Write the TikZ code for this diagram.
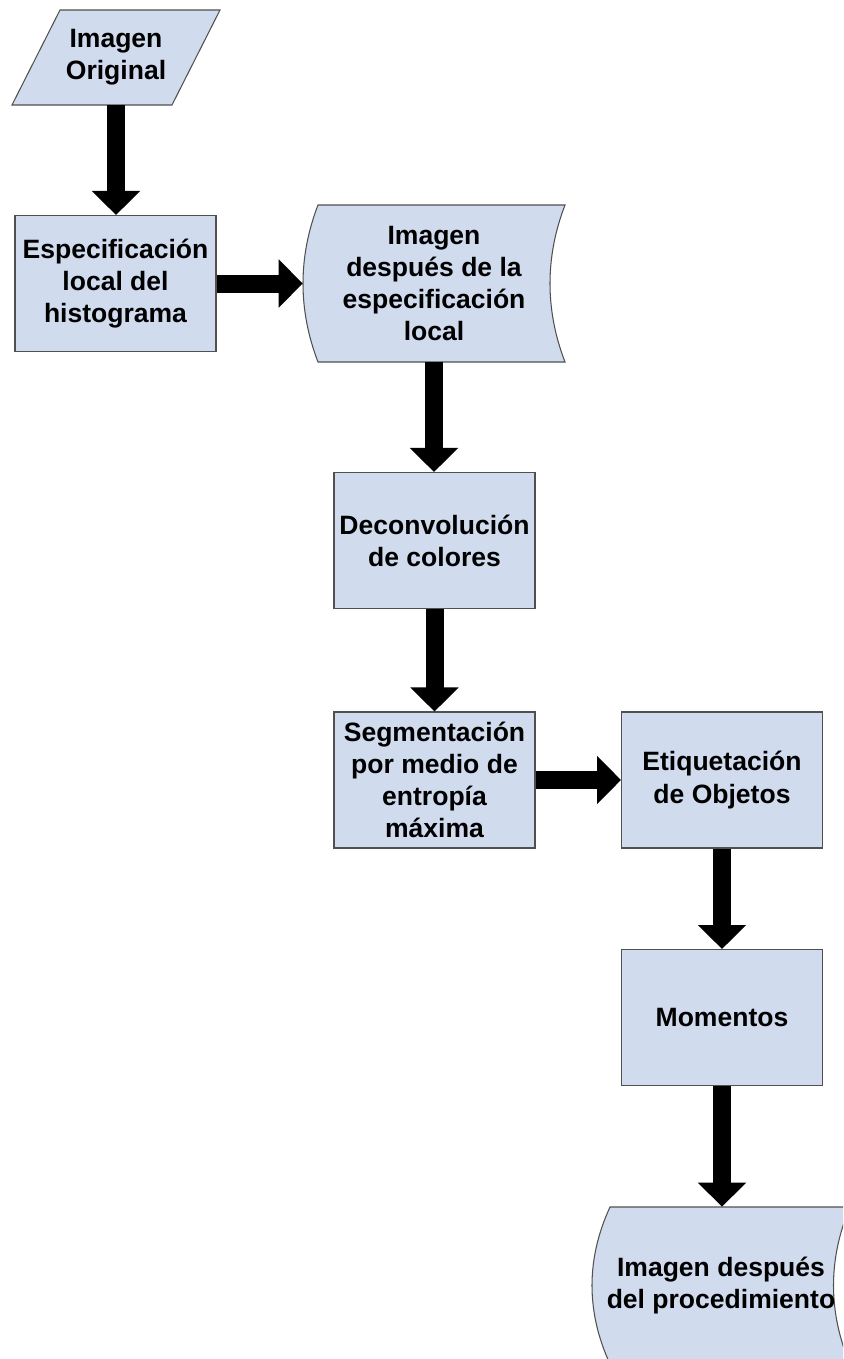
\documentclass[tikz,border=0pt]{standalone}
\usepackage{fontspec}
\setmainfont{Liberation Sans}
\usetikzlibrary{arrows.meta}
\definecolor{cajafondo}{RGB}{208,219,238}
\definecolor{cajaborde}{RGB}{80,80,80}
\tikzset{
    texto/.style={align=center,inner sep=0pt,font=\bfseries\fontsize{15.1}{18.3}\selectfont},
    proceso/.style={texto,draw=cajaborde,fill=cajafondo,line width=0.6pt,minimum width=4.02cm,minimum height=2.72cm},
    contorno/.style={draw=cajaborde,fill=cajafondo,line width=0.6pt},
    flecha/.style={line width=0.36cm,-{Triangle[length=0.48cm,width=0.94cm]}}
}
\begin{document}
\begin{tikzpicture}[x=0.02cm,y=-0.02cm]
            \clip (0,0) rectangle (843,1359);
            \draw[contorno] (60,10)--(220,10)--(172,105)--(12,105)--cycle;
            \node[texto,minimum width=4.16cm,minimum height=1.9cm] (original) at (116,57.5) {Imagen\\Original};
            \node[proceso] (especificacion) at (115.5,283.5) {Especificación\\local del\\histograma};
            \draw[contorno] (318,205)--(565,205) .. controls (545,257) and (545,310) .. (565,362)--(318,362) .. controls (298,310) and (298,257) .. (318,205)--cycle;
            \node[texto,minimum width=5.24cm,minimum height=3.14cm] (imagenlocal) at (434,283.5) {Imagen\\después de la\\especificación\\local};
            \node[proceso] (deconvolucion) at (434.5,540.5) {Deconvolución\\de colores};
            \node[proceso] (segmentacion) at (434.5,780) {Segmentación\\por medio de\\entropía\\máxima};
            \node[proceso] (etiquetacion) at (722,780) {Etiquetación\\de Objetos};
            \node[proceso] (momentos) at (722,1017.5) {Momentos};
            \draw[contorno] (610,1207)--(850,1207) .. controls (828,1259) and (828,1312) .. (850,1364)--(610,1364) .. controls (586,1312) and (586,1259) .. (610,1207)--cycle;
            \node[texto,minimum width=5.16cm,minimum height=3.14cm] (imagenfinal) at (721,1285.5) {Imagen después\\del procedimiento};
            \draw[flecha] (original.south)--(original.south|-especificacion.north);
            \draw[flecha] (especificacion.east)--(especificacion.east-|imagenlocal.west);
            \draw[flecha] (imagenlocal.south)--(imagenlocal.south|-deconvolucion.north);
            \draw[flecha] (deconvolucion.south)--(segmentacion.north);
            \draw[flecha] (segmentacion.east)--(etiquetacion.west);
            \draw[flecha] (etiquetacion.south)--(momentos.north);
            \draw[flecha] (momentos.south)--(momentos.south|-imagenfinal.north);
\end{tikzpicture}
\end{document}
